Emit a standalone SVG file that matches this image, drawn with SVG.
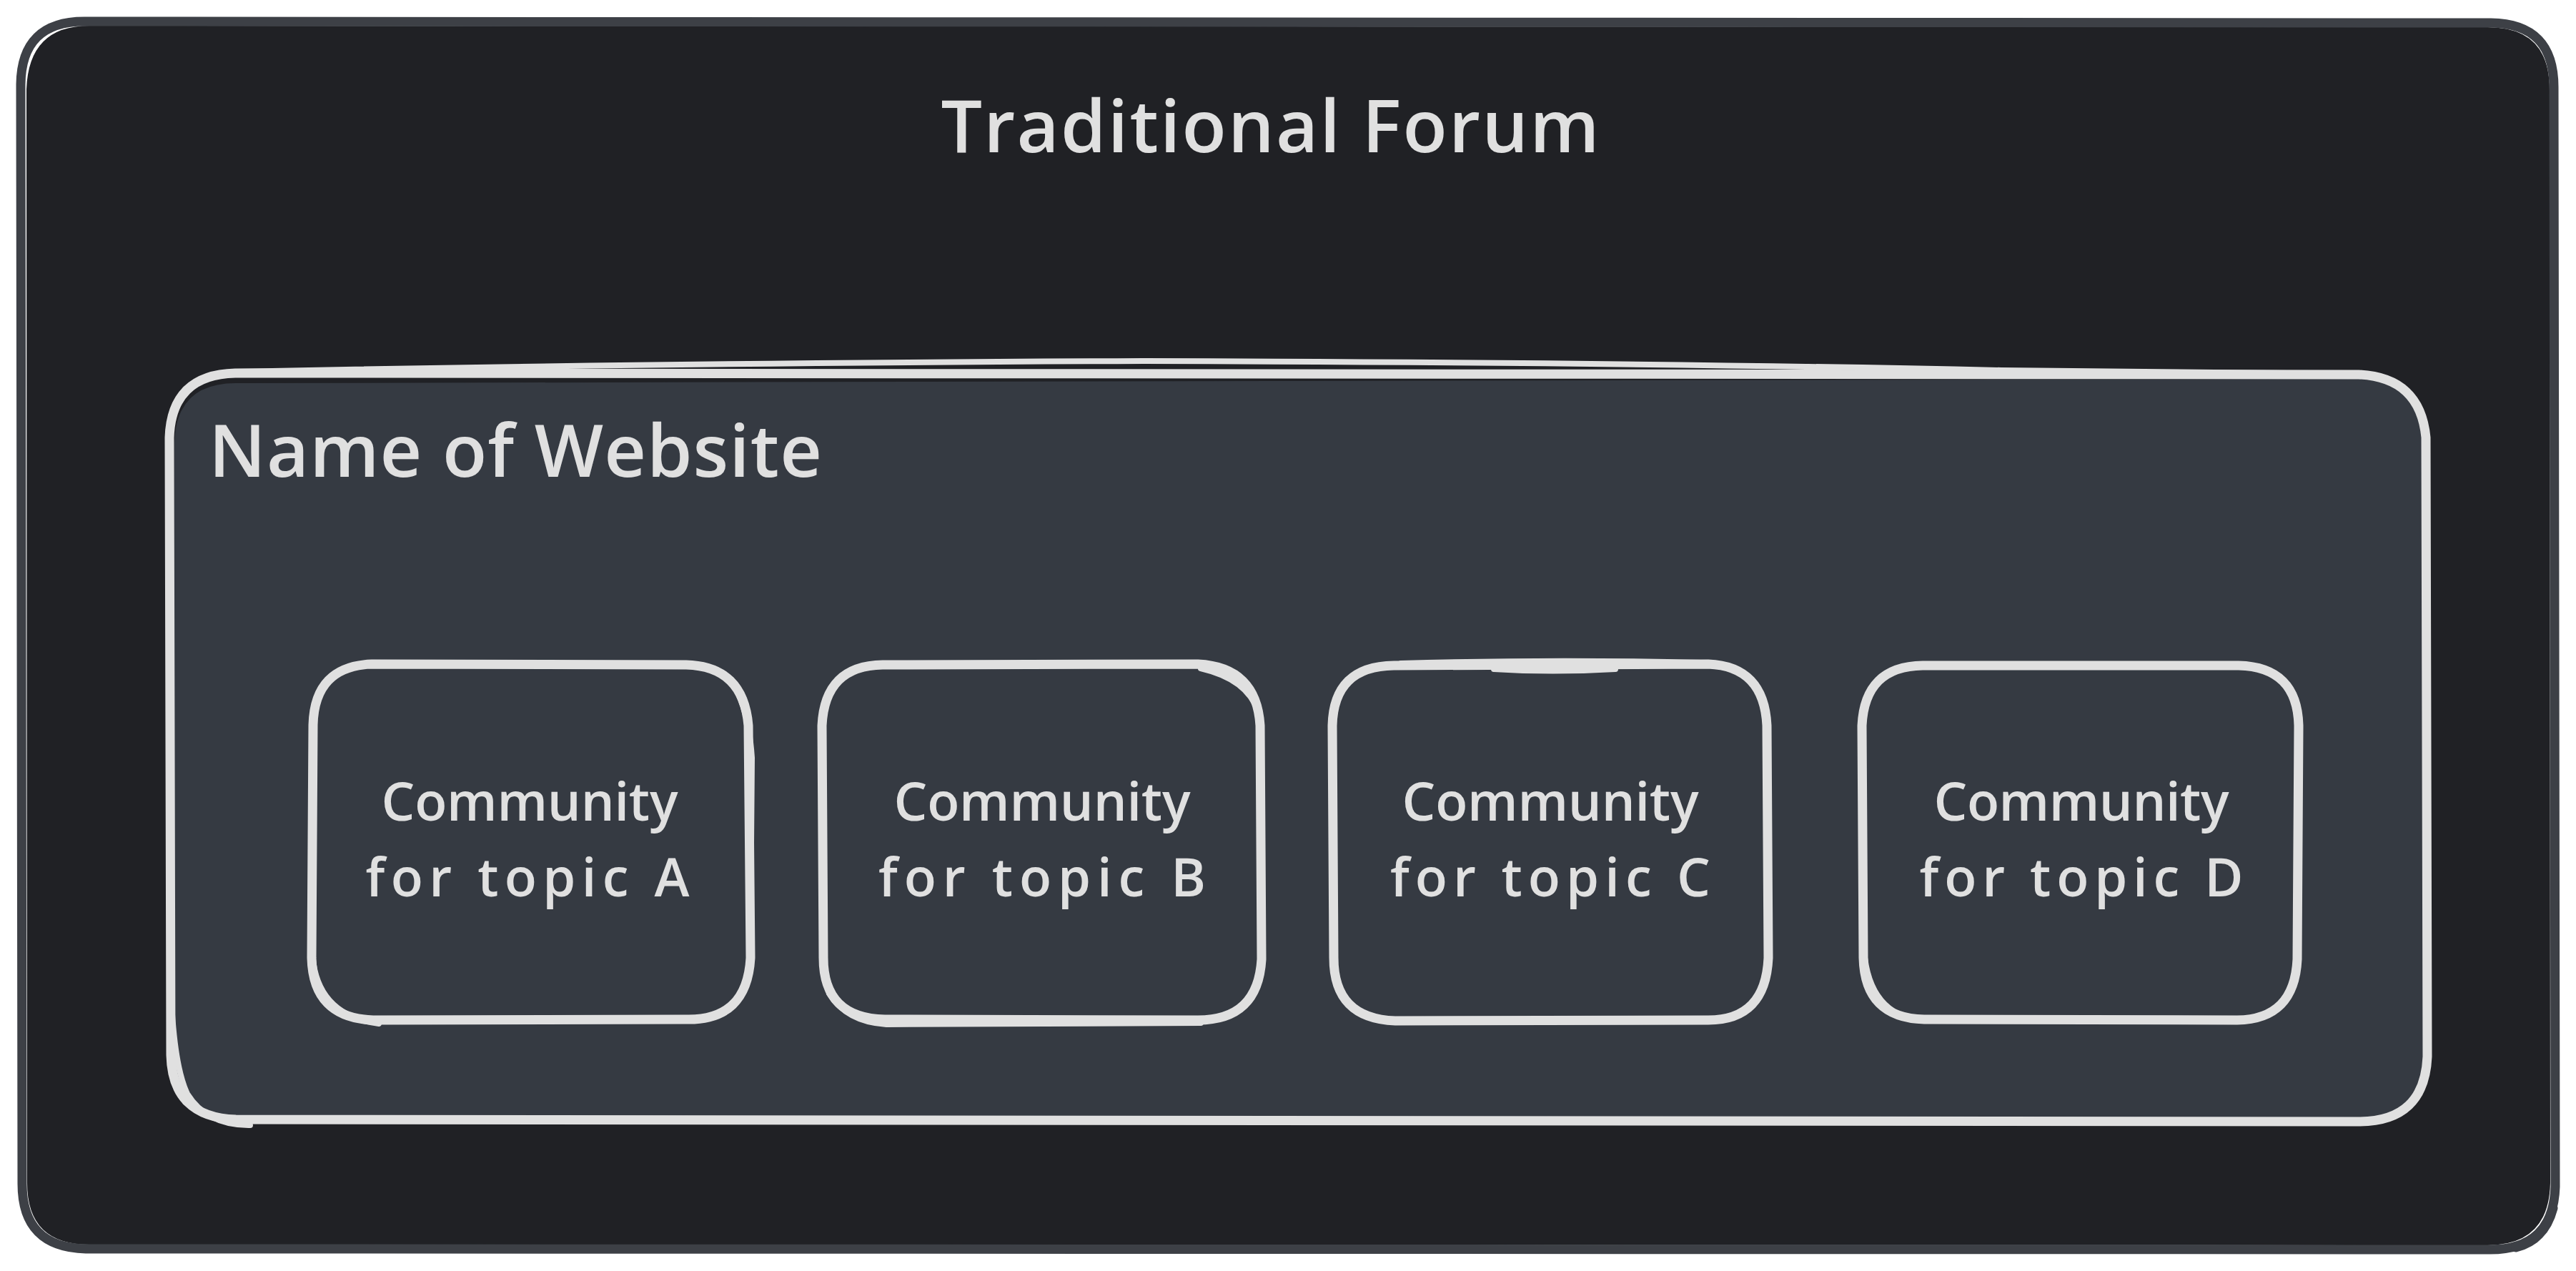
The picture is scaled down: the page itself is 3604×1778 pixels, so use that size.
<svg xmlns="http://www.w3.org/2000/svg" width="3604" height="1778" viewBox="0 0 3604 1778">
  <style>
    .frame-fill { fill: #202125; stroke: none; }
    .frame-line { fill: none; stroke: #3d4046; stroke-width: 13; stroke-linecap: round; stroke-linejoin: round; }
    .panel-fill { fill: #353a42; stroke: none; }
    .sketch { fill: none; stroke: #e0e0e0; stroke-width: 13; stroke-linecap: round; stroke-linejoin: round; }
    .sketch-thin { fill: none; stroke: #e0e0e0; stroke-width: 8; stroke-linecap: round; stroke-linejoin: round; }
    .label { fill: #e0e0e0; font-family: "Open Sans", "Liberation Sans", sans-serif; font-weight: 600; }
    .title { font-size: 102px; }
    .caption { font-size: 74px; text-anchor: middle; }
  </style>

  <rect x="0" y="0" width="3604" height="1778" fill="#ffffff"/>

  <!-- outer frame: Traditional Forum -->
  <g id="forum">
    <path class="frame-fill" d="M 125,36 L 3480,38 Q 3567,38 3567,125 L 3568,1655 Q 3566,1742 3480,1742 L 125,1741 Q 38,1741 38,1655 L 37,125 Q 40,36 125,36 Z"/>
    <path class="frame-line" d="M 118,30 L 3485,32 Q 3573,33 3573,122 L 3575,1660 Q 3572,1748 3484,1748 L 120,1747 Q 31,1745 31,1656 L 29,118 Q 30,30 118,30 Z"/>
    <path class="frame-line" d="M 3572,1690 Q 3560,1735 3520,1745"/>
    <text class="label title" x="1777" y="213" text-anchor="middle" textLength="921" lengthAdjust="spacing">Traditional Forum</text>
  </g>

  <!-- website panel -->
  <g id="website">
    <path class="panel-fill" d="M 330,536 L 3300,530 Q 3390,532 3390,620 L 3390,1478 Q 3388,1564 3300,1564 L 330,1564 Q 244,1564 244,1478 L 244,620 Q 246,536 330,536 Z"/>
    <path class="sketch" d="M 329,522 L 3300,524 Q 3386,528 3394,612 L 3396,1478 Q 3392,1569 3300,1569 L 330,1566 Q 241,1563 239,1476 L 237,612 Q 240,524 329,522 Z"/>
    <path class="sketch-thin" d="M 330,520 Q 900,508 1600,505 Q 2300,507 2800,518 L 3300,523"/>
    <path class="sketch-thin" d="M 3394,640 Q 3398,1100 3396,1480 M 238,1320 Q 238,1480 262,1530 Q 290,1575 350,1574"/>
    <text class="label title" x="292" y="667" textLength="858" lengthAdjust="spacing">Name of Website</text>
  </g>

  <!-- community A -->
  <g id="community-a">
    <path class="panel-fill" d="M 523,935 L 962,933 Q 1043,935 1045,1016 L 1045,1342 Q 1043,1423 962,1423 L 523,1423 Q 441,1423 441,1342 L 441,1016 Q 441,935 523,935 Z"/>
    <path class="sketch" d="M 520,929 L 960,930 Q 1040,932 1047,1015 L 1050,1340 Q 1045,1428 960,1426 L 522,1427 Q 438,1424 436,1340 L 438,1014 Q 440,932 520,929 Z"/>
    <path class="sketch-thin" d="M 1030,965 Q 1048,1000 1052,1060 L 1050,1300 M 437,1330 Q 440,1420 530,1432"/>
    <text class="label caption" x="741" y="1148" textLength="415" lengthAdjust="spacing">Community</text>
    <text class="label caption" x="738" y="1254" textLength="453" lengthAdjust="spacing">for topic A</text>
  </g>

  <!-- community B -->
  <g id="community-b">
    <path class="panel-fill" d="M 1238,935 L 1678,935 Q 1760,937 1760,1016 L 1760,1342 Q 1758,1423 1678,1423 L 1238,1423 Q 1156,1423 1156,1342 L 1156,1016 Q 1156,935 1238,935 Z"/>
    <path class="sketch" d="M 1235,930 L 1676,929 Q 1758,933 1763,1015 L 1765,1342 Q 1760,1427 1676,1427 L 1238,1426 Q 1152,1424 1152,1340 L 1150,1015 Q 1154,931 1235,930 Z"/>
    <path class="sketch-thin" d="M 1680,935 Q 1745,950 1760,995 M 1160,1390 Q 1185,1430 1240,1433 L 1680,1431"/>
    <text class="label caption" x="1458" y="1148" textLength="415" lengthAdjust="spacing">Community</text>
    <text class="label caption" x="1458" y="1254" textLength="458" lengthAdjust="spacing">for topic B</text>
  </g>

  <!-- community C -->
  <g id="community-c">
    <path class="panel-fill" d="M 1952,937 L 2390,937 Q 2468,937 2468,1016 L 2468,1342 Q 2466,1423 2388,1423 L 1952,1423 Q 1872,1423 1872,1342 L 1872,1016 Q 1872,937 1952,937 Z"/>
    <path class="sketch" d="M 1950,931 L 2390,929 Q 2468,932 2472,1015 L 2474,1340 Q 2470,1427 2390,1427 L 1952,1428 Q 1866,1425 1866,1340 L 1864,1015 Q 1866,932 1950,931 Z"/>
    <path class="sketch-thin" d="M 1960,928 Q 2170,922 2380,927 M 2090,936 Q 2170,941 2260,936"/>
    <text class="label caption" x="2169" y="1148" textLength="415" lengthAdjust="spacing">Community</text>
    <text class="label caption" x="2169" y="1254" textLength="448" lengthAdjust="spacing">for topic C</text>
  </g>

  <!-- community D -->
  <g id="community-d">
    <path class="panel-fill" d="M 2692,937 L 3132,937 Q 3212,937 3212,1016 L 3212,1342 Q 3210,1423 3132,1423 L 2692,1423 Q 2611,1423 2611,1342 L 2611,1016 Q 2611,937 2692,937 Z"/>
    <path class="sketch" d="M 2690,931 L 3132,931 Q 3214,933 3216,1015 L 3214,1342 Q 3210,1426 3130,1427 L 2692,1426 Q 2609,1424 2607,1340 L 2605,1015 Q 2609,932 2690,931 Z"/>
    <path class="sketch-thin" d="M 3216,1018 L 3218,1060 M 2608,1330 Q 2615,1420 2690,1428"/>
    <text class="label caption" x="2912" y="1148" textLength="413" lengthAdjust="spacing">Community</text>
    <text class="label caption" x="2912" y="1254" textLength="453" lengthAdjust="spacing">for topic D</text>
  </g>

  <!-- no connectors in this drawing -->
  <g id="connectors"/>
</svg>
